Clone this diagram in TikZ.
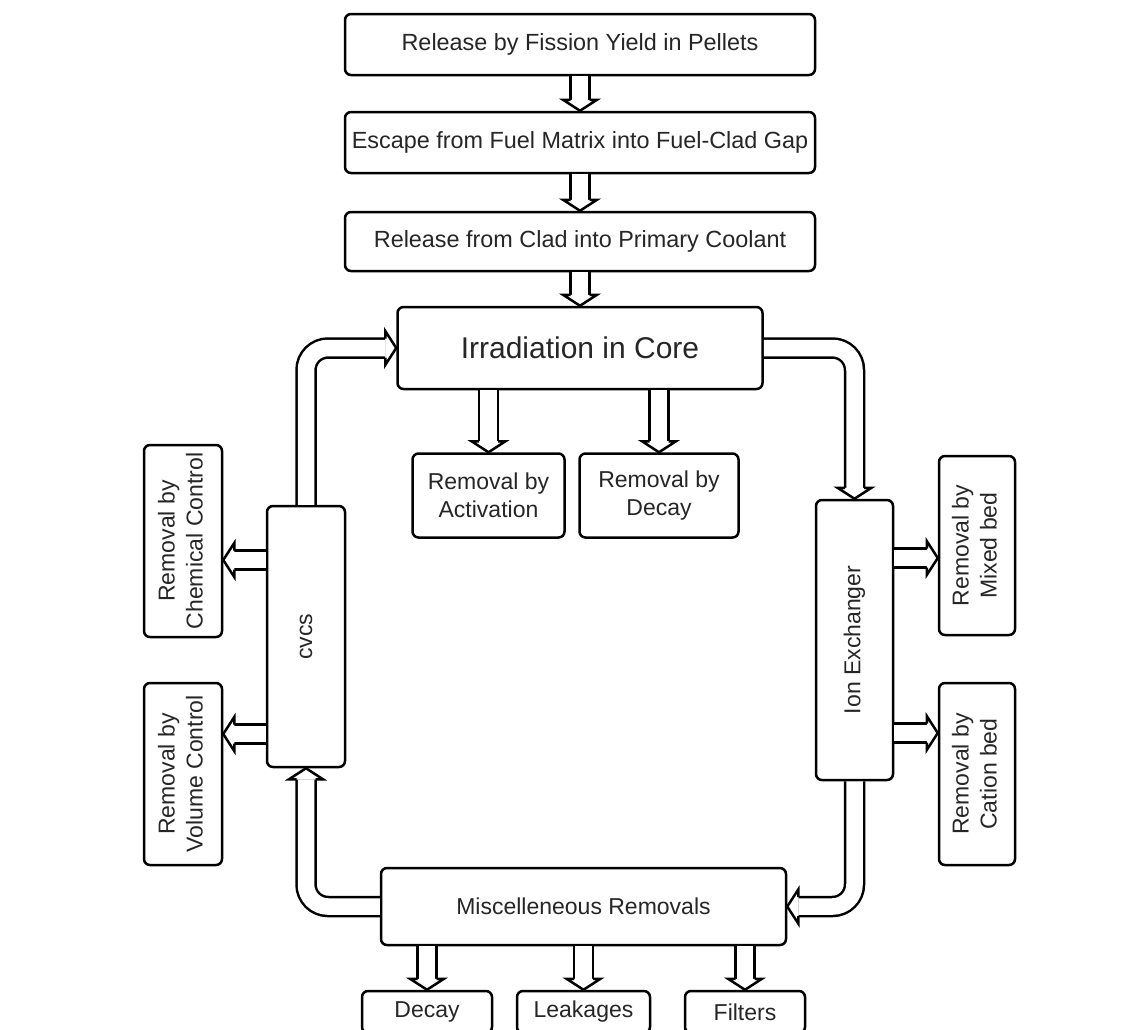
\documentclass[tikz,border=0pt]{standalone}
\usepackage{fontspec}
\setmainfont{Liberation Sans}
\usetikzlibrary{positioning}

\newcommand{\vtext}[1]{\rotatebox{90}{\begin{tabular}{@{}c@{}}#1\end{tabular}}}

\begin{document}
\begin{tikzpicture}[
    x=1pt, y=1pt,
    node distance=34.5pt,
    box/.style={draw, line width=2.5pt, rounded corners=6pt, fill=white, align=center, inner sep=0pt, text=black!85, font=\fontsize{23}{28}\selectfont},
    wide/.style={box, minimum width=470pt, minimum height=61pt, font=\fontsize{23.4}{28}\selectfont},
    shaft/.style={line width=2.5pt, double=white, double distance=16.5pt, shorten >=11pt, rounded corners=22pt},
    blockhead/.pic={\draw[line width=2.5pt, fill=white, line join=miter] (-11,9.5) -- (-11,17) -- (0,0) -- (-11,-17) -- (-11,-9.5);},
]
    \useasboundingbox (0,0) rectangle (1143,-1029);

    % release chain
    \node[wide] (rel) at (580,-44.5) {Release by Fission Yield in Pellets};
    \node[wide, below=34.5pt of rel] (esc) {Escape from Fuel Matrix into Fuel-Clad Gap};
    \node[wide, minimum height=59pt, below=36.5pt of esc] (clad) {Release from Clad into Primary Coolant};
    \node[box, minimum width=365pt, minimum height=82pt, below=33.5pt of clad, font=\fontsize{30}{36}\selectfont] (core) {Irradiation in Core};

    % removal in core
    \node[box, minimum width=152pt, minimum height=84pt, below right=62pt and 15pt of core.south west] (act) {Removal by\\Activation};
    \node[box, minimum width=159pt, minimum height=84pt, right=12.5pt of act] (dcy) {Removal by\\Decay};

    % CVCS side
    \node[box, minimum width=78pt, minimum height=261pt] (cvcs) at (306,-636.5) {\rotatebox{90}{cvcs}};
    \node[box, minimum width=78pt, minimum height=192pt] (chem) at (183,-541) {\vtext{Removal by\\Chemical Control}};
    \node[box, minimum width=78pt, minimum height=182pt, below=43.5pt of chem] (vol) {\vtext{Removal by\\Volume Control}};

    % ion exchanger side
    \node[box, minimum width=77pt, minimum height=280pt] (ionx) at (854.5,-640) {\rotatebox{90}{Ion Exchanger}};
    \node[box, minimum width=76pt, minimum height=179pt] (mixed) at (977,-545.5) {\vtext{Removal by\\Mixed bed}};
    \node[box, minimum width=76pt, minimum height=182pt, below=45.5pt of mixed] (cation) {\vtext{Removal by\\Cation bed}};

    % misc removals
    \node[box, minimum width=405pt, minimum height=77pt] (misc) at (583.5,-906.5) {Miscelleneous Removals};
    \node[box, minimum width=130pt, minimum height=42pt] (mdcy) at (427,-1012) {Decay};
    \node[box, minimum width=133pt, minimum height=42pt, right=22.5pt of mdcy] (leak) {Leakages};
    \node[box, minimum width=120pt, minimum height=42pt, right=32.5pt of leak] (filt) {Filters};

    % side coordinates
    \coordinate (chemin) at ([yshift=-19pt]chem.east);
    \coordinate (volin) at ([yshift=40pt]vol.east);
    \coordinate (mixin) at ([yshift=-12.5pt]mixed.west);
    \coordinate (catin) at ([yshift=41pt]cation.west);

    % straight arrows
    \draw[shaft] (rel) -- (esc);
    \pic[rotate=-90] at (esc.north) {blockhead};
    \draw[shaft] (esc) -- (clad);
    \pic[rotate=-90] at (clad.north) {blockhead};
    \draw[shaft] (clad) -- (core);
    \pic[rotate=-90] at (core.north) {blockhead};
    \draw[shaft] (act.north |- core.south) -- (act.north);
    \pic[rotate=-90] at (act.north) {blockhead};
    \draw[shaft] (dcy.north |- core.south) -- (dcy.north);
    \pic[rotate=-90] at (dcy.north) {blockhead};
    \foreach \b in {mdcy, leak, filt} {
        \draw[shaft] (\b.north |- misc.south) -- (\b.north);
        \pic[rotate=-90] at (\b.north) {blockhead};
    }
    \draw[shaft] (cvcs.west |- chemin) -- (chemin);
    \pic[rotate=180] at (chemin) {blockhead};
    \draw[shaft] (cvcs.west |- volin) -- (volin);
    \pic[rotate=180] at (volin) {blockhead};
    \draw[shaft] (ionx.east |- mixin) -- (mixin);
    \pic at (mixin) {blockhead};
    \draw[shaft] (ionx.east |- catin) -- (catin);
    \pic at (catin) {blockhead};

    % loop
    \draw[shaft] (cvcs.north) |- (core.west);
    \pic at (core.west) {blockhead};
    \draw[shaft] (core.east) -| (ionx.north);
    \pic[rotate=-90] at (ionx.north) {blockhead};
    \draw[shaft] (ionx.south) |- (misc.east);
    \pic[rotate=180] at (misc.east) {blockhead};
    \draw[shaft] (misc.west) -| (cvcs.south);
    \pic[rotate=90] at (cvcs.south) {blockhead};
\end{tikzpicture}
\end{document}
